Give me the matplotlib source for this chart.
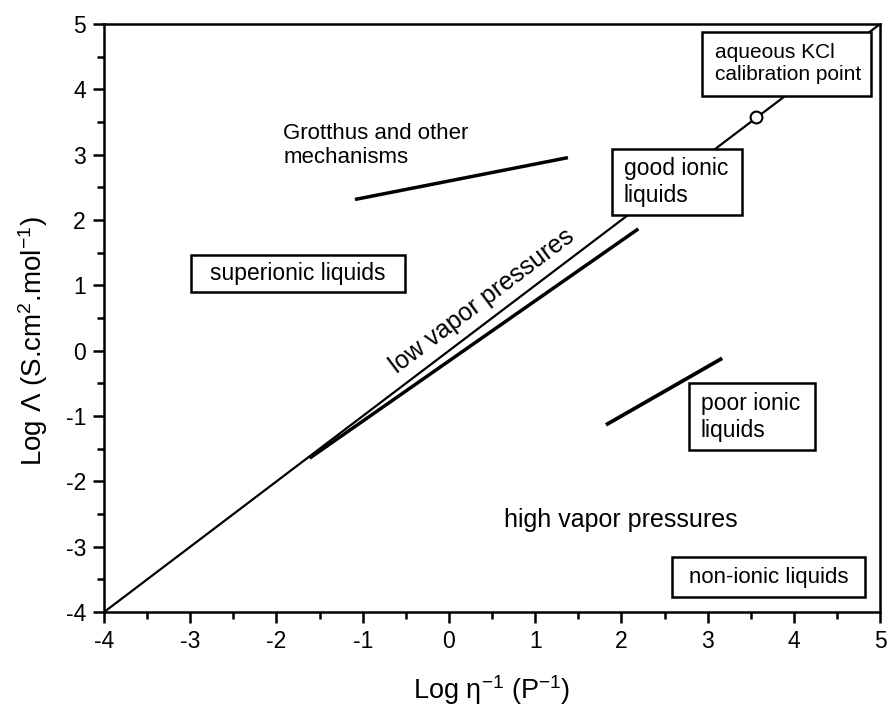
import matplotlib
matplotlib.use("Agg")
import matplotlib.pyplot as plt
from matplotlib.patches import Rectangle

plt.rcParams['font.family'] = ['Liberation Sans', 'DejaVu Sans']
plt.rcParams['mathtext.fontset'] = 'custom'
plt.rcParams['mathtext.rm'] = 'Liberation Sans'
plt.rcParams['mathtext.it'] = 'Liberation Sans:italic'
plt.rcParams['axes.unicode_minus'] = False

# Walden plot data
ideal_x = [-4, 5]
ideal_y = [-4, 5]
il_x = [-1.6, 2.18]
il_y = [-1.63, 1.85]
grotthus_x = [-1.07, 1.36]
grotthus_y = [2.32, 2.95]
poor_x = [1.84, 3.15]
poor_y = [-1.12, -0.13]
kcl_x = [3.56]
kcl_y = [3.58]

ticks = [-4, -3, -2, -1, 0, 1, 2, 3, 4, 5]

# boxed region labels: text, (x0, x1, y0, y1) of the box, font size
box_labels = ["aqueous KCl\ncalibration point", "good ionic\nliquids",
              "superionic liquids", "poor ionic\nliquids", "non-ionic liquids"]
box_extents = [(2.94, 4.89, 3.90, 4.88), (1.89, 3.40, 2.08, 3.09),
               (-2.99, -0.51, 0.90, 1.46), (2.78, 4.25, -1.52, -0.50),
               (2.59, 4.83, -3.77, -3.16)]
box_sizes = [15, 16.5, 16.5, 16.5, 16]

fig = plt.figure(figsize=(8.89, 7.06), dpi=100)
ax = fig.add_axes([0.117, 0.133, 0.873, 0.833])

ax.plot(ideal_x, ideal_y, color='black', lw=1.6, zorder=2)
ax.plot(il_x, il_y, color='black', lw=2.5, zorder=2)
ax.plot(grotthus_x, grotthus_y, color='black', lw=2.5, zorder=2)
ax.plot(poor_x, poor_y, color='black', lw=2.7, zorder=2)
ax.plot(kcl_x, kcl_y, 'o', ms=8.5, mfc='white', mec='black', mew=1.5, zorder=4)

for txt, (x0, x1, y0, y1), fs in zip(box_labels, box_extents, box_sizes):
    ax.add_patch(Rectangle((x0, y0), x1 - x0, y1 - y0, facecolor='white',
                           edgecolor='black', lw=1.8, zorder=5))
    if '\n' in txt:
        ax.text(x0 + 0.14, (y0 + y1) / 2, txt, fontsize=fs, ha='left',
                va='center', zorder=6)
    else:
        ax.text((x0 + x1) / 2, (y0 + y1) / 2, txt, fontsize=fs, ha='center',
                va='center', zorder=6)

ax.text(-1.92, 3.14, "Grotthus and other\nmechanisms", fontsize=16,
        ha='left', va='center')
ax.text(0.64, -2.59, "high vapor pressures", fontsize=18, ha='left', va='center')
ax.text(0.38, 0.76, "low vapor pressures", fontsize=18, rotation=37,
        rotation_mode='anchor', ha='center', va='center')

ax.set_xlim(-4, 5)
ax.set_ylim(-4, 5)
ax.set_xticks(ticks)
ax.set_yticks(ticks)
ax.set_xticks([t + 0.5 for t in ticks[:-1]], minor=True)
ax.set_yticks([t + 0.5 for t in ticks[:-1]], minor=True)
ax.tick_params(which='major', direction='out', length=8, width=1.8,
               labelsize=16.5, pad=5)
ax.tick_params(which='minor', direction='out', length=5, width=1.8)
for s in ax.spines.values():
    s.set_linewidth(1.8)

ax.set_xlabel("Log η$^{-1}$ (P$^{-1}$)", fontsize=19.5)
ax.set_ylabel("Log Λ (S.cm$^{2}$.mol$^{-1}$)", fontsize=20)
ax.xaxis.set_label_coords(0.5, -0.133)
ax.xaxis.label.set_va('center')
ax.yaxis.set_label_coords(-0.092, 0.46)
ax.yaxis.label.set_va('center')

fig.savefig('out.png', dpi=100, facecolor='white')
